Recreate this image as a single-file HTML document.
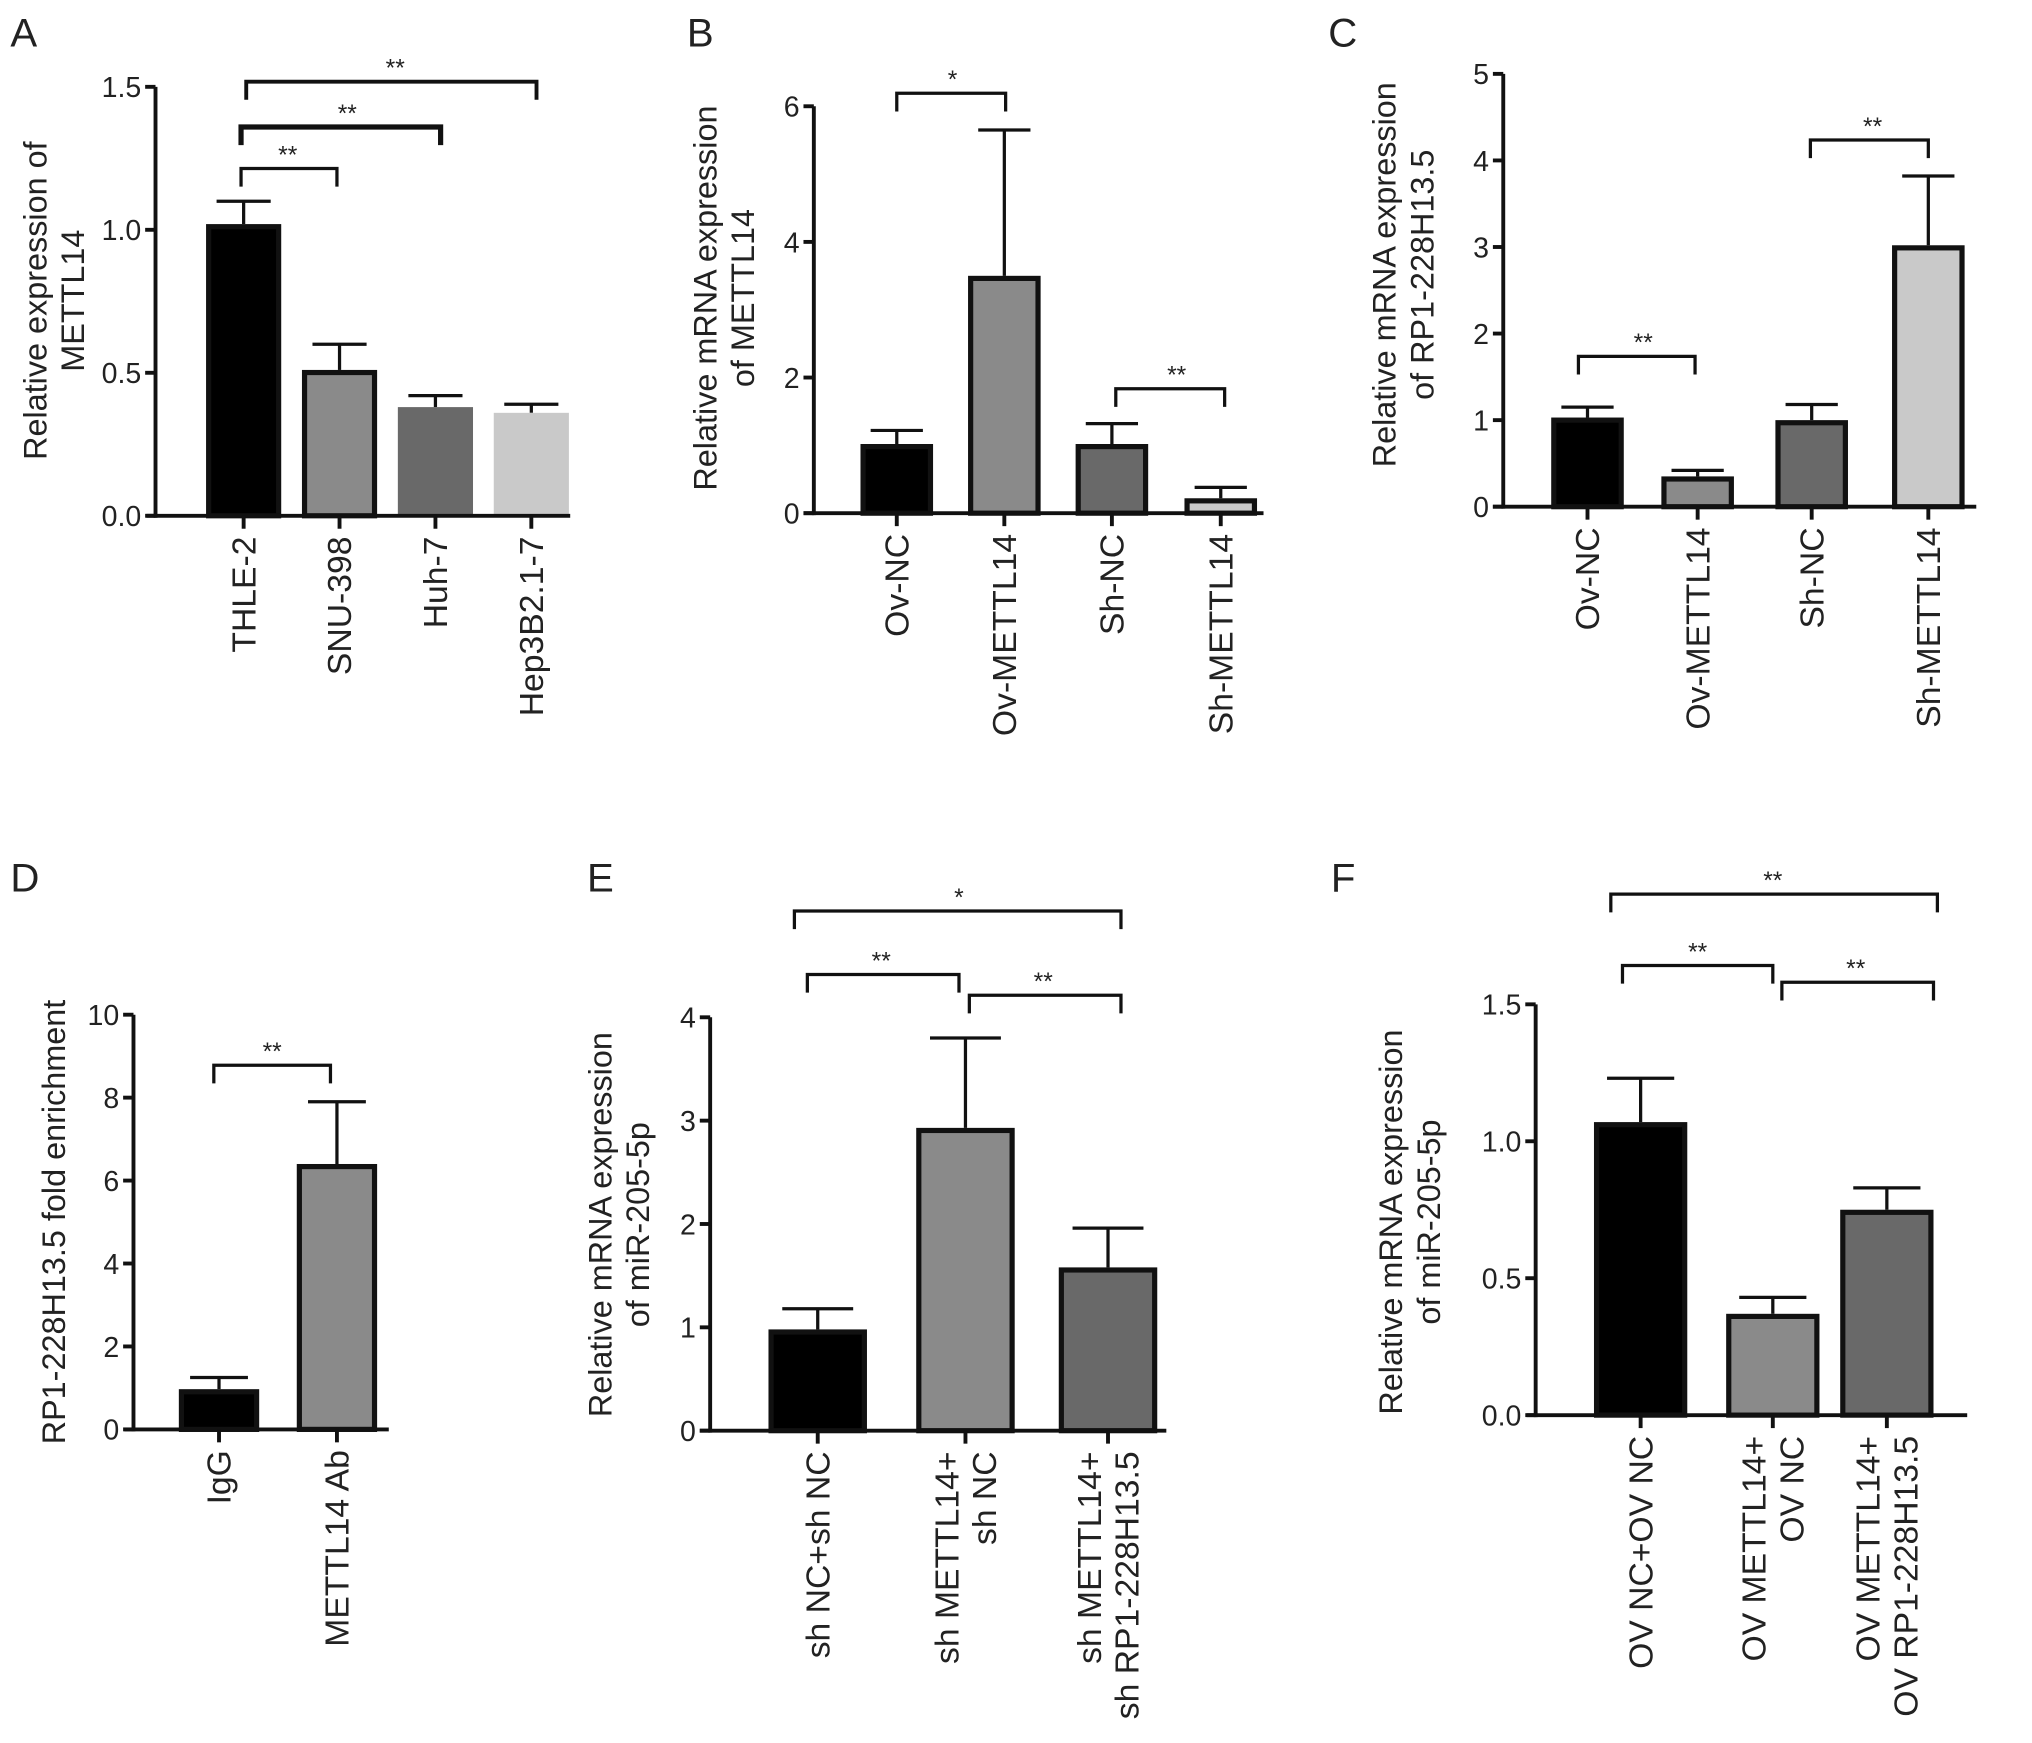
<!DOCTYPE html>
<html><head><meta charset="utf-8"><style>
html,body{margin:0;padding:0;background:#fff}
svg{display:block}
text{font-family:"Liberation Sans",Arial,sans-serif;fill:#222}
</style></head><body>
<svg id="fig" width="2032" height="1743" viewBox="0 0 1568 1345" xmlns="http://www.w3.org/2000/svg"></svg>
<script>
// Panel A
const catsA=["THLE-2","SNU-398","Huh-7","Hep3B2.1-7"];
const valsA=[1.02,0.51,0.38,0.36];
const errA=[1.10,0.60,0.42,0.39];
const ticksA=[0,0.5,1.0,1.5];
const tickLabA=["0.0","0.5","1.0","1.5"];
// Panel B
const catsB=["Ov-NC","Ov-METTL14","Sh-NC","Sh-METTL14"];
const valsB=[1.02,3.5,1.02,0.22];
const errB=[1.22,5.65,1.32,0.38];
const ticksB=[0,2,4,6];
const tickLabB=["0","2","4","6"];
// Panel C
const catsC=["Ov-NC","Ov-METTL14","Sh-NC","Sh-METTL14"];
const valsC=[1.03,0.35,1.0,3.02];
const errC=[1.15,0.42,1.18,3.82];
const ticksC=[0,1,2,3,4,5];
const tickLabC=["0","1","2","3","4","5"];
// Panel D
const catsD=["IgG","METTL14 Ab"];
const valsD=[0.97,6.4];
const errD=[1.25,7.9];
const ticksD=[0,2,4,6,8,10];
const tickLabD=["0","2","4","6","8","10"];
// Panel E
const catsE=["sh NC+sh NC","sh METTL14+|sh NC","sh METTL14+|sh RP1-228H13.5"];
const valsE=[0.98,2.93,1.58];
const errE=[1.18,3.8,1.96];
const ticksE=[0,1,2,3,4];
const tickLabE=["0","1","2","3","4"];
// Panel F
const catsF=["OV NC+OV NC","OV METTL14+|OV NC","OV METTL14+|OV RP1-228H13.5"];
const valsF=[1.07,0.37,0.75];
const errF=[1.23,0.43,0.83];
const ticksF=[0,0.5,1.0,1.5];
const tickLabF=["0.0","0.5","1.0","1.5"];

const NS="http://www.w3.org/2000/svg";
const svg=document.getElementById('fig');
function mk(tag,attrs,parent,txt){const e=document.createElementNS(NS,tag);for(const k in attrs)e.setAttribute(k,attrs[k]);if(txt!==undefined)e.textContent=txt;(parent||svg).appendChild(e);return e;}

function panel(p){
  const g=mk('g',{});
  
  
  const ymax=p.ticks[p.ticks.length-1];
  const y=v=>p.y0-(v/ymax)*(p.y0-p.y1);
  const lt=mk('text',{x:p.lx,y:p.ly,'font-size':31},g,p.letter);
  
  
  p.vals.forEach((v,i)=>{
    const cx=p.xs[i],w=p.bw;
    const top=y(v),et=y(p.err[i]);
    const el=mk('line',{x1:cx,x2:cx,y1:top,y2:et,stroke:'#111','stroke-width':2.5},g);
    
    
    const cap=mk('line',{x1:cx-w*0.36,x2:cx+w*0.36,y1:et,y2:et,stroke:'#111','stroke-width':2.5},g);
    
    
    const b=p.border[i];
    const r=mk('rect',{x:cx-w/2+(b?2:0),y:top+(b?2:0),width:w-(b?4:0),height:Math.max(0,p.y0-top-(b?2:0)),fill:p.colors[i],stroke:b?'#111':'none','stroke-width':b?4:0},g);
    
    
  });
  const ya=mk('line',{x1:p.ax,x2:p.ax,y1:p.y1,y2:p.y0+1.5,stroke:'#111','stroke-width':3},g);
  
  
  const xa=mk('line',{x1:p.xa0,x2:p.xa1,y1:p.y0,y2:p.y0,stroke:'#111','stroke-width':3},g);
  
  
  p.ticks.forEach((t,i)=>{
    const ty=y(t);
    mk('line',{x1:p.ax-8,x2:p.ax,y1:ty,y2:ty,stroke:'#111','stroke-width':3},g);
    const tl=mk('text',{x:p.ax-11,y:ty+8,'font-size':22,'text-anchor':'end'},g,p.tickLab[i]);
    
    
  });
  p.cats.forEach((c,i)=>{
    const cx=p.xs[i];
    mk('line',{x1:cx,x2:cx,y1:p.y0,y2:p.y0+10,stroke:'#111','stroke-width':3},g);
    const lines=c.split('|');
    lines.forEach((s,j)=>{
      const off=(j-(lines.length-1)/2)*29;
      const tx=cx+off+9,ty=p.y0+16;
      const t=mk('text',{x:tx,y:ty,'font-size':26,'text-anchor':'end',transform:`rotate(-90 ${tx} ${ty})`},g,s);
      
      
    });
  });
  p.ylab.forEach((s,j)=>{
    const tx=p.ylx[j],ty=p.yly;
    const t=mk('text',{x:tx,y:ty,'font-size':25,'text-anchor':'middle',transform:`rotate(-90 ${tx} ${ty})`},g,s);
    
    
  });
  p.br.forEach(b=>{
    const [x1,x2,by,lab,lx,thick]=b;
    const pth=mk('path',{d:`M${x1} ${by+14}V${by}H${x2}V${by+14}`,fill:'none',stroke:'#111','stroke-width':thick||2.5},g);
    
    
    const st=mk('text',{x:lx,y:by-4,'font-size':19,'text-anchor':'middle'},g,lab);
    
    
  });
}

panel({id:'a',letter:'A',lx:8,ly:36,cats:catsA,vals:valsA,err:errA,ticks:ticksA,tickLab:tickLabA,
 ax:120,y0:398,y1:67,xa0:113,xa1:440,xs:[188,262,336,410],bw:58,
 colors:['#000','#8a8a8a','#696969','#c9c9c9'],border:[true,true,false,false],
 ylab:['Relative expression of','METTL14'],ylx:[36,65],yly:232,
 br:[[186,260,130,'**',222],[186,340,98,'**',268,4],[190,414,63,'**',305,3]]});
panel({id:'b',letter:'B',lx:530,ly:36,cats:catsB,vals:valsB,err:errB,ticks:ticksB,tickLab:tickLabB,
 ax:628,y0:396,y1:82,xa0:620,xa1:975,xs:[692,775,858,942],bw:56,
 colors:['#000','#8a8a8a','#696969','#c9c9c9'],border:[true,true,true,true],
 ylab:['Relative mRNA expression','of METTL14'],ylx:[553,582],yly:230,
 br:[[692,776,72,'*',735],[861,945,300,'**',908]]});
panel({id:'c',letter:'C',lx:1025,ly:36,cats:catsC,vals:valsC,err:errC,ticks:ticksC,tickLab:tickLabC,
 ax:1160,y0:391,y1:57,xa0:1152,xa1:1525,xs:[1225,1310,1398,1488],bw:56,
 colors:['#000','#8a8a8a','#696969','#c9c9c9'],border:[true,true,true,true],
 ylab:['Relative mRNA expression','of RP1-228H13.5'],ylx:[1077,1106],yly:212,
 br:[[1218,1308,275,'**',1268],[1397,1488,108,'**',1445]]});
panel({id:'d',letter:'D',lx:8,ly:688,cats:catsD,vals:valsD,err:errD,ticks:ticksD,tickLab:tickLabD,
 ax:103,y0:1103,y1:783,xa0:96,xa1:300,xs:[169,260],bw:62,
 colors:['#000','#8a8a8a'],border:[true,true],
 ylab:['RP1-228H13.5 fold enrichment'],ylx:[50],yly:943,
 br:[[165,255,822,'**',210]]});
panel({id:'e',letter:'E',lx:453,ly:688,cats:catsE,vals:valsE,err:errE,ticks:ticksE,tickLab:tickLabE,
 ax:548,y0:1104,y1:785,xa0:540,xa1:900,xs:[631,745,855],bw:76,
 colors:['#000','#8a8a8a','#696969'],border:[true,true,true],
 ylab:['Relative mRNA expression','of miR-205-5p'],ylx:[472,501],yly:945,
 br:[[623,740,752,'**',680],[748,865,768,'**',805],[613,865,703,'*',740]]});
panel({id:'f',letter:'F',lx:1027,ly:688,cats:catsF,vals:valsF,err:errF,ticks:ticksF,tickLab:tickLabF,
 ax:1185,y0:1092,y1:775,xa0:1178,xa1:1518,xs:[1266,1368,1456],bw:72,
 colors:['#000','#8a8a8a','#696969'],border:[true,true,true],
 ylab:['Relative mRNA expression','of miR-205-5p'],ylx:[1082,1111],yly:943,
 br:[[1252,1368,745,'**',1310],[1375,1492,758,'**',1432],[1243,1495,690,'**',1368]]});
</script>
</body></html>
